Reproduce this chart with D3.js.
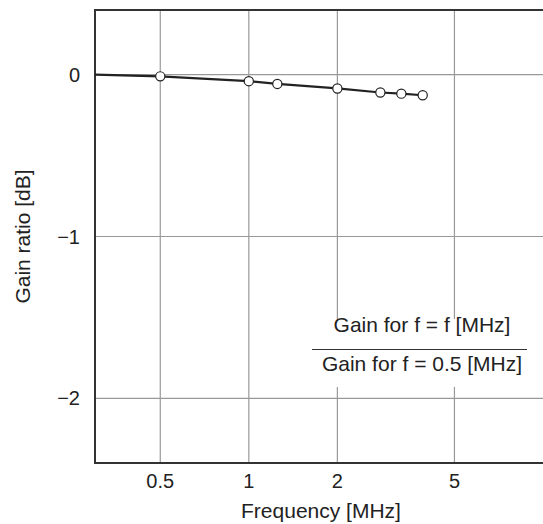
<html>
<head>
    <meta charset="utf-8">
    <title>Gain ratio vs frequency</title>
    <style>
        body { margin: 0; background: #fff; }
        text { font-family: "Liberation Sans", Arial, Helvetica, sans-serif; fill: #222; }
    </style>
</head>
<body>
    <script src="https://cdn.jsdelivr.net/npm/d3@7/dist/d3.min.js"></script>
    <script>
        var width = 543, height = 524;

        // data
        var curveFreq = [0.3, 0.5, 1, 1.25, 2, 2.8, 3.3, 3.9];          // MHz
        var curveGain = [0, -0.01, -0.04, -0.057, -0.085, -0.11, -0.117, -0.127]; // dB
        var pointFreq = [0.5, 1, 1.25, 2, 2.8, 3.3, 3.9];
        var pointGain = [-0.01, -0.04, -0.057, -0.085, -0.11, -0.117, -0.127];
        var xTicks = [0.5, 1, 2, 5];
        var yTicks = [0, -1, -2];

        // plot box (window.top is reserved, so prefixed names)
        var pLeft = 95, pRight = 543, pTop = 10, pBottom = 463;

        var x = d3.scaleLog().domain([0.3, 10]).range([pLeft, pRight]);
        var y = d3.scaleLinear().domain([-2.4, 0.4]).range([pBottom, pTop]);

        var svg = d3.select("body").append("svg")
            .attr("width", width)
            .attr("height", height);

        // grid
        svg.append("g").selectAll("line")
            .data(xTicks).enter().append("line")
            .attr("x1", d => x(d)).attr("x2", d => x(d))
            .attr("y1", pTop).attr("y2", pBottom)
            .attr("stroke", "#999").attr("stroke-width", 1.2);
        svg.append("g").selectAll("line")
            .data(yTicks).enter().append("line")
            .attr("x1", pLeft).attr("x2", pRight)
            .attr("y1", d => y(d)).attr("y2", d => y(d))
            .attr("stroke", "#999").attr("stroke-width", 1.2);

        // white box behind the formula
        svg.append("rect")
            .attr("x", 305).attr("y", 319)
            .attr("width", 232).attr("height", 68)
            .attr("fill", "#fff");

        // frame (no right border)
        svg.append("path")
            .attr("d", "M" + pRight + "," + pTop + "H" + pLeft + "V" + pBottom + "H" + pRight)
            .attr("fill", "none").attr("stroke", "#333").attr("stroke-width", 2);

        // curve
        var line = d3.line().x(d => x(d[0])).y(d => y(d[1]));
        svg.append("path")
            .datum(d3.zip(curveFreq, curveGain))
            .attr("d", line)
            .attr("fill", "none").attr("stroke", "#222").attr("stroke-width", 2.2);

        svg.append("g").selectAll("circle")
            .data(d3.zip(pointFreq, pointGain)).enter().append("circle")
            .attr("cx", d => x(d[0])).attr("cy", d => y(d[1]))
            .attr("r", 4.6)
            .attr("fill", "#fff").attr("stroke", "#222").attr("stroke-width", 1.2);

        // tick labels
        svg.append("g").selectAll("text")
            .data(xTicks).enter().append("text")
            .attr("x", d => x(d)).attr("y", 488)
            .attr("text-anchor", "middle")
            .style("font-size", "20px")
            .text(d => d);
        svg.append("g").selectAll("text")
            .data(yTicks).enter().append("text")
            .attr("x", 80).attr("y", d => y(d))
            .attr("dy", "0.35em")
            .attr("text-anchor", "end")
            .style("font-size", "20px")
            .text(d => d < 0 ? "\u2212" + Math.abs(d) : d);

        // axis titles
        svg.append("text")
            .attr("x", 321).attr("y", 518)
            .attr("text-anchor", "middle")
            .style("font-size", "21px")
            .text("Frequency [MHz]");
        svg.append("text")
            .attr("transform", "translate(30," + ((pTop + pBottom) / 2) + ") rotate(-90)")
            .attr("text-anchor", "middle")
            .style("font-size", "21px")
            .text("Gain ratio [dB]");

        // formula
        svg.append("text")
            .attr("x", 422).attr("y", 332)
            .attr("text-anchor", "middle")
            .style("font-size", "21px")
            .text("Gain for f = f [MHz]");
        svg.append("line")
            .attr("x1", 312).attr("x2", 527)
            .attr("y1", 349.5).attr("y2", 349.5)
            .attr("stroke", "#333").attr("stroke-width", 1.2);
        svg.append("text")
            .attr("x", 422).attr("y", 371)
            .attr("text-anchor", "middle")
            .style("font-size", "21px")
            .text("Gain for f = 0.5 [MHz]");
    </script>
</body>
</html>
